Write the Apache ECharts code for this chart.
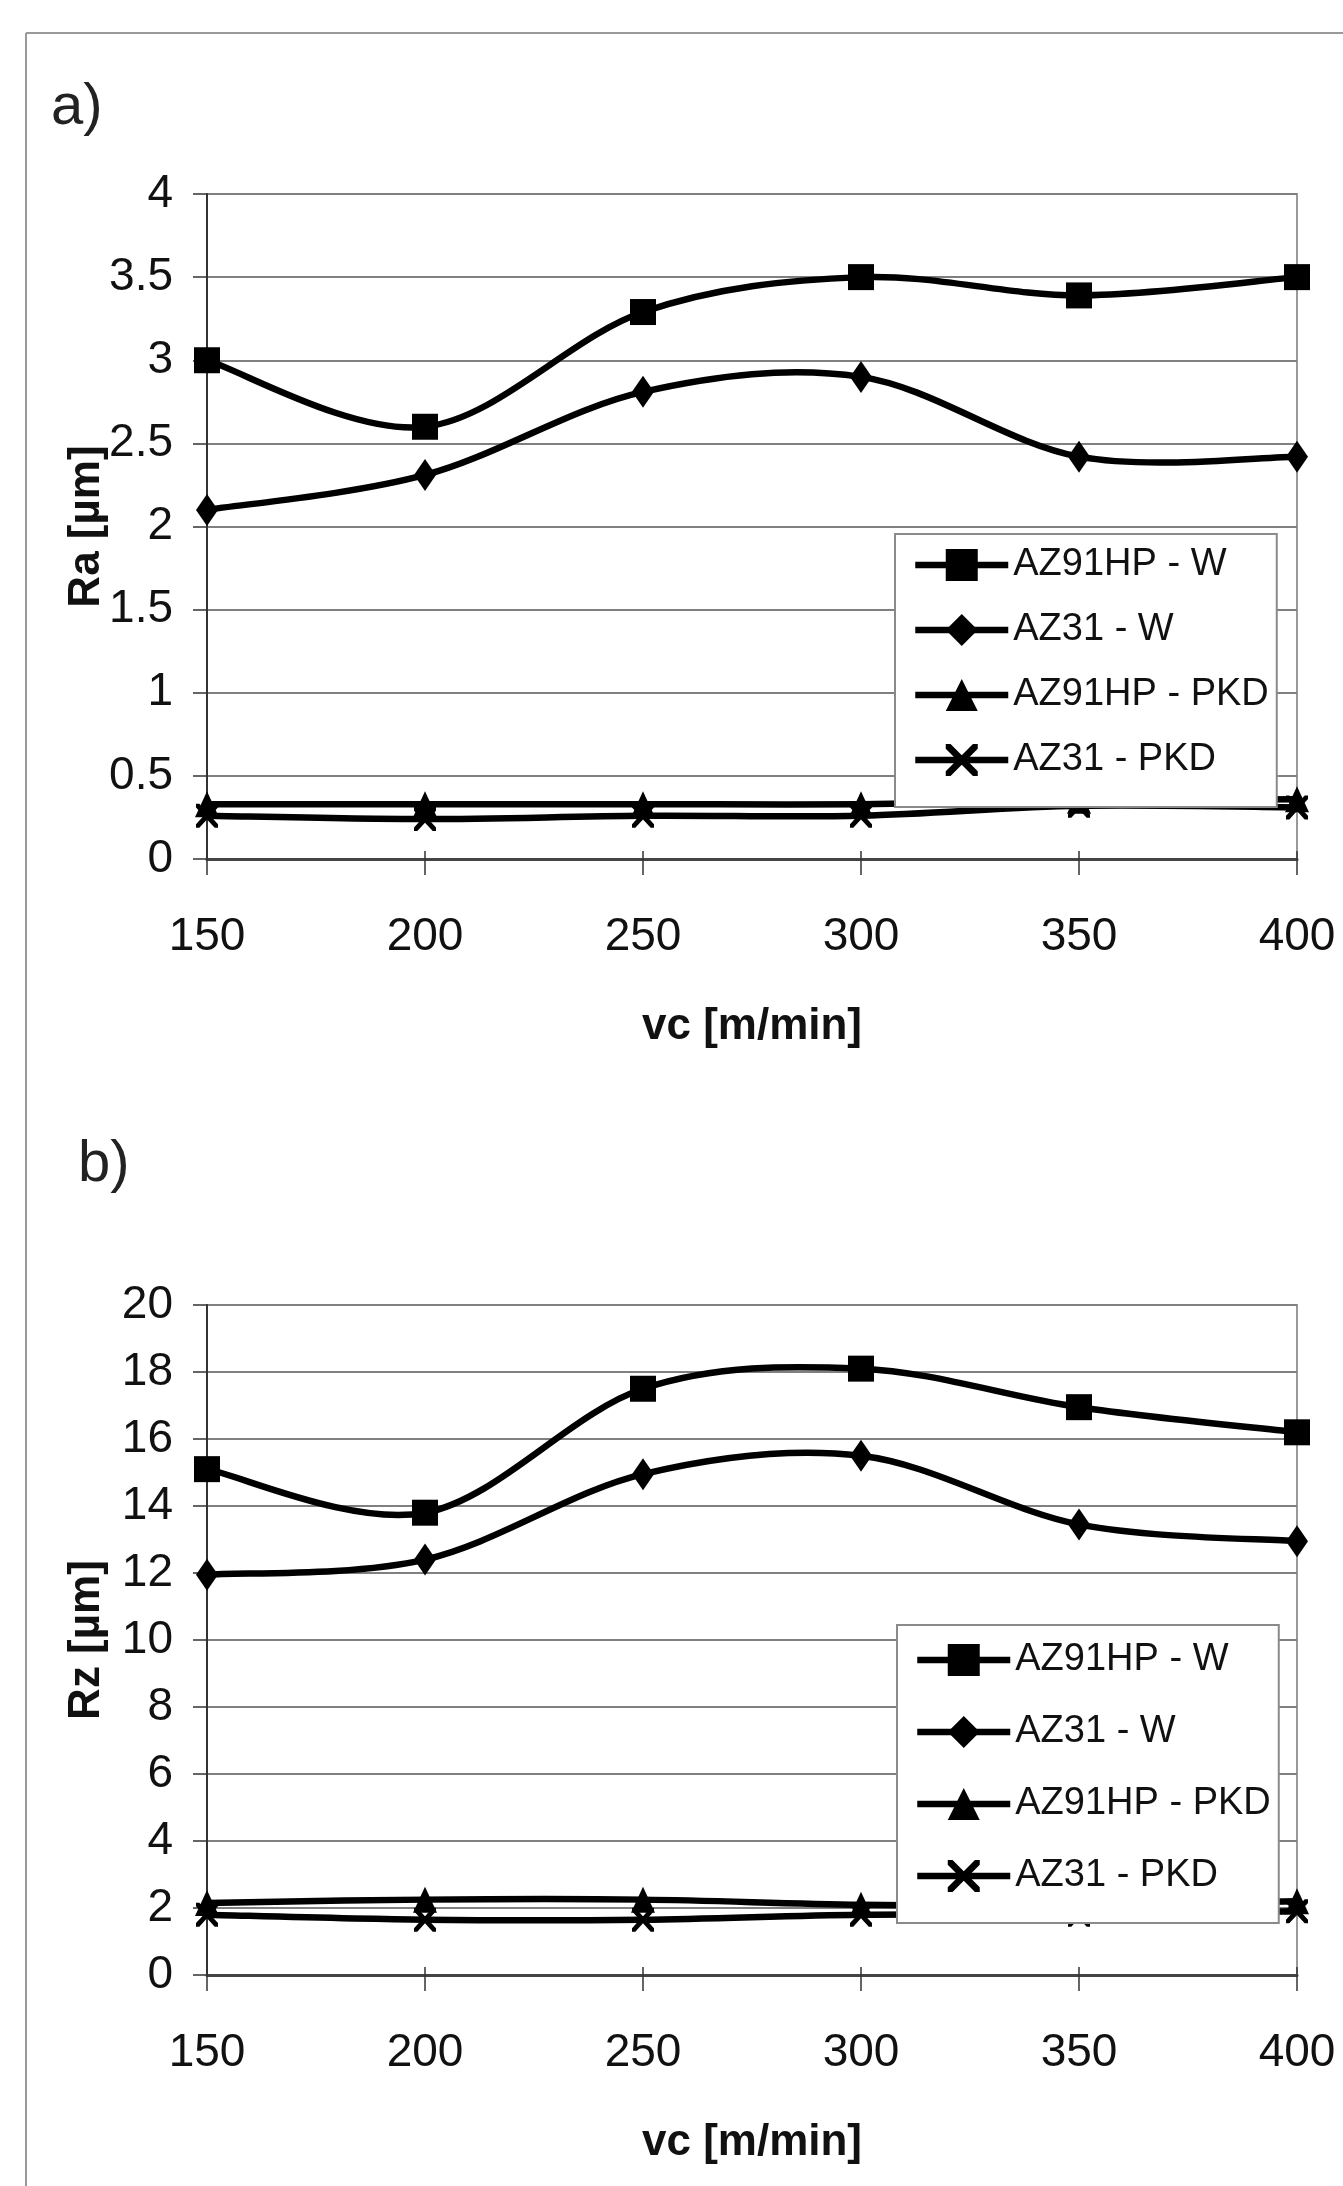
<!DOCTYPE html>
<html>
<head>
<meta charset="utf-8">
<script src="https://cdn.jsdelivr.net/npm/echarts@6/dist/echarts.min.js"></script>
<style>
  html, body { margin: 0; padding: 0; background: #fff; }
  #chart { width: 1343px; height: 2186px; }
</style>
</head>
<body>
<div id="chart"></div>
<script>
// ---- data ----
const vc = [150, 200, 250, 300, 350, 400];
const seriesNames = ['AZ91HP - W', 'AZ31 - W', 'AZ91HP - PKD', 'AZ31 - PKD'];

const ra_AZ91HP_W   = [3.0, 2.6, 3.29, 3.5, 3.39, 3.5];
const ra_AZ31_W     = [2.1, 2.31, 2.81, 2.9, 2.42, 2.42];
const ra_AZ91HP_PKD = [0.33, 0.33, 0.33, 0.33, 0.35, 0.36];
const ra_AZ31_PKD   = [0.26, 0.24, 0.26, 0.26, 0.32, 0.31];

const rz_AZ91HP_W   = [15.1, 13.8, 17.5, 18.1, 16.95, 16.2];
const rz_AZ31_W     = [11.95, 12.4, 14.95, 15.5, 13.45, 12.95];
const rz_AZ91HP_PKD = [2.15, 2.25, 2.25, 2.1, 2.1, 2.2];
const rz_AZ31_PKD   = [1.8, 1.65, 1.65, 1.8, 1.8, 1.9];

const yTicksRa = { min: 0, max: 4, interval: 0.5 };
const yTicksRz = { min: 0, max: 20, interval: 2 };
const xTicks = { min: 150, max: 400, interval: 50 };

// ---- styling ----
const FONT = "'Liberation Sans', Arial, sans-serif";
const LINE_W = 6.5;
const xPath = 'path://M0,0 L1.5,0 L5,3.5 L8.5,0 L10,0 L10,1.5 L6.5,5 L10,8.5 L10,10 L8.5,10 L5,6.5 L1.5,10 L0,10 L0,8.5 L3.5,5 L0,1.5 Z';
const symbols = [
  { symbol: 'rect', size: 26 },
  { symbol: 'diamond', size: [22, 32] },
  { symbol: 'triangle', size: [24, 26] },
  { symbol: xPath, size: [22, 24] }
];

function pairs(ys) { return vc.map((x, i) => [x, ys[i]]); }

// Excel-style smoothed line: cubic Bezier segments (Catmull-Rom, tension 1/6),
// every point mapped through the axis scales with api.coord.
function smoothRenderItem(params, api) {
  const i = params.dataIndexInside;
  const n = params.dataInsideLength;
  if (i >= n - 1) return null;
  const pt = (j) => {
    const k = Math.max(0, Math.min(n - 1, j));
    return api.coord([api.value(0, k), api.value(1, k)]);
  };
  const p0 = pt(i - 1), p1 = pt(i), p2 = pt(i + 1), p3 = pt(i + 2);
  return {
    type: 'bezierCurve',
    shape: {
      x1: p1[0], y1: p1[1], x2: p2[0], y2: p2[1],
      cpx1: p1[0] + (p2[0] - p0[0]) / 6, cpy1: p1[1] + (p2[1] - p0[1]) / 6,
      cpx2: p2[0] - (p3[0] - p1[0]) / 6, cpy2: p2[1] - (p3[1] - p1[1]) / 6
    },
    style: { stroke: '#000', lineWidth: LINE_W, fill: null, lineCap: 'round' }
  };
}

function makeSeries(gridIdx, arrays) {
  const out = [];
  arrays.forEach((ys, k) => {
    out.push({
      type: 'custom',
      coordinateSystem: 'cartesian2d',
      xAxisIndex: gridIdx,
      yAxisIndex: gridIdx,
      data: pairs(ys),
      encode: { x: 0, y: 1 },
      renderItem: smoothRenderItem,
      silent: true,
      z: 2
    });
    out.push({
      name: seriesNames[k],
      type: 'line',
      xAxisIndex: gridIdx,
      yAxisIndex: gridIdx,
      data: pairs(ys),
      symbol: symbols[k].symbol,
      symbolSize: symbols[k].size,
      showAllSymbol: true,
      lineStyle: { color: '#000', width: 0, opacity: 0 },
      itemStyle: { color: '#000', borderWidth: 0 },
      emphasis: { disabled: true },
      z: 3
    });
  });
  return out;
}

function xAxisDef(gridIdx) {
  return {
    type: 'value', gridIndex: gridIdx,
    min: xTicks.min, max: xTicks.max, interval: xTicks.interval,
    name: 'vc [m/min]', nameLocation: 'middle', nameGap: 146, nameMoveOverlap: false,
    nameTextStyle: { fontFamily: FONT, fontSize: 44, fontWeight: 'bold', color: '#111' },
    axisLine: { show: true, onZero: false, lineStyle: { color: '#444', width: 3 } },
    axisTick: { show: true, length: 16, lineStyle: { color: '#333', width: 1.5 } },
    axisLabel: { margin: 55, fontFamily: FONT, fontSize: 46, color: '#111' },
    splitLine: { show: false }
  };
}

// companion axis: draws the inner half of the crossing tick marks
function xAxisInnerTicks(gridIdx) {
  return {
    type: 'value', gridIndex: gridIdx, position: 'bottom',
    min: xTicks.min, max: xTicks.max, interval: xTicks.interval,
    axisLine: { show: false, onZero: false },
    axisTick: { show: true, inside: true, length: 8, lineStyle: { color: '#333', width: 1.5 } },
    axisLabel: { show: false },
    splitLine: { show: false }
  };
}

function yAxisDef(gridIdx, ticks, name) {
  return {
    type: 'value', gridIndex: gridIdx,
    min: ticks.min, max: ticks.max, interval: ticks.interval,
    name: name, nameLocation: 'middle', nameGap: 98, nameMoveOverlap: false,
    nameTextStyle: { fontFamily: FONT, fontSize: 44, fontWeight: 'bold', color: '#111' },
    axisLine: { show: true, lineStyle: { color: '#333', width: 2 } },
    axisTick: { show: true, length: 14, lineStyle: { color: '#333', width: 1.5 } },
    axisLabel: { margin: 34, fontFamily: FONT, fontSize: 46, color: '#111' },
    splitLine: { show: true, lineStyle: { color: '#808080', width: 2 } }
  };
}

function legendDef(left, top, gap, padding) {
  return {
    orient: 'vertical', left: left, top: top,
    data: seriesNames,
    itemWidth: 93, itemHeight: 40, itemGap: gap,
    padding: padding,
    backgroundColor: '#fff', borderColor: '#8a8a8a', borderWidth: 2,
    textStyle: { fontFamily: FONT, fontSize: 38, lineHeight: 40, color: '#111' },
    lineStyle: { color: '#000', width: LINE_W, opacity: 1 },
    selectedMode: false,
    z: 10
  };
}

const option = {
  animation: false,
  backgroundColor: '#fff',
  title: [
    { text: 'a)', left: 46, top: 74, textStyle: { fontFamily: FONT, fontSize: 58, fontWeight: 'normal', color: '#222' } },
    { text: 'b)', left: 73, top: 1131, textStyle: { fontFamily: FONT, fontSize: 58, fontWeight: 'normal', color: '#222' } }
  ],
  graphic: [
    { type: 'line', shape: { x1: 26, y1: 33, x2: 1343, y2: 33 }, style: { stroke: '#999', lineWidth: 2 } },
    { type: 'line', shape: { x1: 26, y1: 33, x2: 26, y2: 2186 }, style: { stroke: '#999', lineWidth: 2 } }
  ],
  grid: [
    { left: 207, top: 194, width: 1090, height: 665, show: true, borderColor: '#999', borderWidth: 2, backgroundColor: 'transparent' },
    { left: 207, top: 1305, width: 1090, height: 670, show: true, borderColor: '#999', borderWidth: 2, backgroundColor: 'transparent' }
  ],
  xAxis: [xAxisDef(0), xAxisDef(1), xAxisInnerTicks(0), xAxisInnerTicks(1)],
  yAxis: [yAxisDef(0, yTicksRa, 'Ra [µm]'), yAxisDef(1, yTicksRz, 'Rz [µm]')],
  legend: [
    legendDef(895, 534, 25, [11, 8, 27, 17]),
    legendDef(897, 1625, 32, [15, 8, 27, 17])
  ],
  series: [
    ...makeSeries(0, [ra_AZ91HP_W, ra_AZ31_W, ra_AZ91HP_PKD, ra_AZ31_PKD]),
    ...makeSeries(1, [rz_AZ91HP_W, rz_AZ31_W, rz_AZ91HP_PKD, rz_AZ31_PKD])
  ]
};

const chart = echarts.init(document.getElementById('chart'), null, { renderer: 'canvas' });
chart.setOption(option);
</script>
</body>
</html>
